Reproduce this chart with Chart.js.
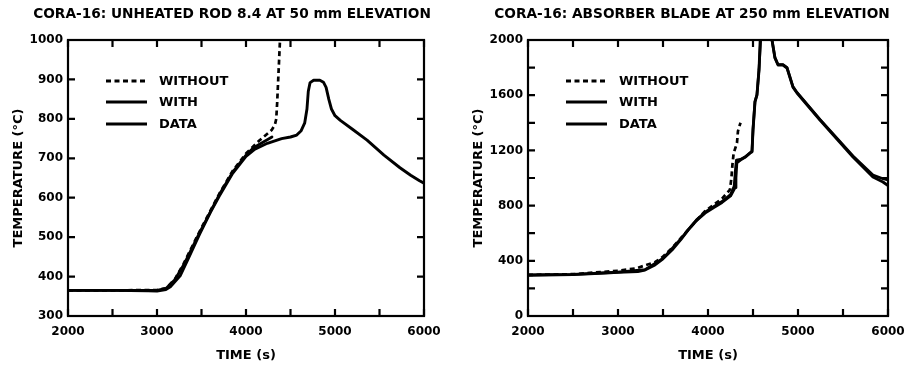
<!DOCTYPE html>
<html><head><meta charset="utf-8">
<script src="https://cdn.jsdelivr.net/npm/chart.js@4/dist/chart.umd.min.js"></script>
<style>
html,body{margin:0;padding:0;background:#fff;}
#wrap{position:relative;width:905px;height:366px;overflow:hidden;background:#fff;}
#c1{position:absolute;left:0;top:0;width:452px;height:366px;}
#c2{position:absolute;left:452px;top:0;width:453px;height:366px;}
</style></head><body>
<div id="wrap"><canvas id="c1" width="452" height="366"></canvas><canvas id="c2" width="453" height="366"></canvas></div>
<script>
// ---------- tick values ----------
const xTicks = [2000,2500,3000,3500,4000,4500,5000,5500,6000];
const xTickLabels = [2000,3000,4000,5000,6000];
const yTicksL = [300,400,500,600,700,800,900,1000];
const yTickLabelsL = [300,400,500,600,700,800,900,1000];
const yTicksR = [0,200,400,600,800,1000,1200,1400,1600,1800,2000];
const yTickLabelsR = [0,400,800,1200,1600,2000];

const titleL = "CORA-16: UNHEATED ROD 8.4 AT 50 mm ELEVATION";
const titleR = "CORA-16: ABSORBER BLADE AT 250 mm ELEVATION";
const xTitle = "TIME (s)";
const yTitle = "TEMPERATURE (\u00B0C)";
const seriesNames = ["WITHOUT","WITH","DATA"];

// ---------- left panel: unheated rod ----------
const tWithoutL = [2000,2500,3000,3100,3200,3300,3480,3700,3850,4000,4150,4290,4326,4340,4350,4362,4372,4382];
const vWithoutL = [365,365,366,370,393,433,515,610,668,712,745,772,786,800,840,900,950,1000];

const tWithL = [2000,2500,3000,3100,3200,3300,3480,3700,3850,4000,4080,4200,4292];
const vWithL = [365,365,365,370,392,430,512,608,665,708,726,742,754];

const tDataL = [2000,2500,2900,3000,3100,3150,3200,3260,3350,3480,3600,3700,3850,4000,4100,4240,4400,4500,4570,4620,4660,4685,4700,4720,4760,4830,4870,4900,4930,4960,5000,5060,5200,5360,5550,5730,5850,5950,6000];
const vDataL = [365,365,364,363,367,374,387,402,445,508,563,604,662,705,723,738,750,754,759,770,790,825,870,892,898,898,893,880,850,825,808,796,773,746,708,676,657,643,637];

// ---------- right panel: absorber blade ----------
const tWithoutR = [2000,2500,2800,3000,3200,3411,3500,3600,3700,3800,3900,3967,4060,4156,4244,4260,4272,4285,4310,4322,4333,4356,4362];
const vWithoutR = [298,303,318,328,345,390,430,493,565,640,712,760,805,850,915,1000,1100,1180,1230,1254,1340,1390,1400];

const tWithR = [2000,2500,3000,3300,3500,3700,3870,3967,4156,4250,4290,4305,4315,4360,4411,4467,4489,4500,4522,4544,4567,4585,4600,4700,4711,4744,4778,4833,4878,4944,4989,5244,5611,5833,5944,6000];
const vWithR = [298,302,318,336,418,560,695,752,830,880,940,1060,1130,1135,1152,1183,1195,1350,1555,1605,1790,2000,2150,2150,2000,1872,1822,1822,1800,1662,1620,1425,1160,1022,995,985];

const tDataR = [2000,2500,2860,3000,3220,3300,3411,3500,3600,3700,3778,3870,3967,4060,4156,4250,4300,4310,4320,4360,4411,4467,4489,4500,4522,4544,4567,4580,4600,4700,4711,4744,4778,4833,4878,4944,4989,5244,5611,5833,5944,6000];
const vDataR = [295,300,312,316,322,333,370,415,478,555,623,690,746,785,823,870,930,1000,1110,1130,1150,1180,1190,1348,1551,1601,1783,2000,2150,2150,2000,1870,1819,1819,1797,1659,1616,1420,1152,1007,971,945];

const FONT = 'DejaVu Sans';
const pts = (ts, vs) => ts.map((t, i) => ({x: t, y: vs[i]}));

function makeDatasets(tw, vw, ti, vi, td, vd) {
  const base = {borderColor:'#000', backgroundColor:'#000', pointRadius:0, tension:0, fill:false, borderJoinStyle:'round', borderCapStyle:'round'};
  return [
    Object.assign({}, base, {label: seriesNames[0], data: pts(tw, vw), borderWidth: 2.7, borderDash: [5, 3.5], borderCapStyle:'butt'}),
    Object.assign({}, base, {label: seriesNames[1], data: pts(ti, vi), borderWidth: 2.7}),
    Object.assign({}, base, {label: seriesNames[2], data: pts(td, vd), borderWidth: 2.9})
  ];
}

const framePlugin = {
  id: 'frameTicks',
  afterDatasetsDraw(chart, args, opts) {
    const {ctx, chartArea: a, scales: {x, y}} = chart;
    ctx.save();
    ctx.strokeStyle = '#000';
    ctx.lineWidth = 2.2;
    ctx.strokeRect(a.left, a.top, a.right - a.left, a.bottom - a.top);
    const L = 7;
    ctx.beginPath();
    x.ticks.forEach(t => {
      const px = x.getPixelForValue(t.value);
      ctx.moveTo(px, a.bottom); ctx.lineTo(px, a.bottom - L);
      ctx.moveTo(px, a.top); ctx.lineTo(px, a.top + L);
    });
    y.ticks.forEach(t => {
      const py = y.getPixelForValue(t.value);
      ctx.moveTo(a.left, py); ctx.lineTo(a.left + L, py);
      ctx.moveTo(a.right, py); ctx.lineTo(a.right - L, py);
    });
    ctx.stroke();
    // legend
    const rows = [41, 62, 84];
    chart.data.datasets.forEach((ds, i) => {
      const yy = a.top + rows[i];
      ctx.beginPath();
      ctx.lineWidth = 2.8;
      ctx.setLineDash(ds.borderDash || []);
      ctx.moveTo(a.left + 38, yy); ctx.lineTo(a.left + 79, yy);
      ctx.stroke();
      ctx.setLineDash([]);
      ctx.fillStyle = '#000';
      ctx.font = 'bold 13px "' + FONT + '"';
      ctx.textAlign = 'left';
      ctx.textBaseline = 'middle';
      ctx.fillText(ds.label, a.left + 91, yy + 0.5);
    });
    // title
    ctx.font = 'bold 13.7px "' + FONT + '"';
    ctx.textAlign = 'center';
    ctx.textBaseline = 'middle';
    ctx.fillText(opts.text, a.left + 164, 14);
    ctx.restore();
  }
};

function makeChart(id, title, datasets, yMin, yMax, yTicks, yLabels, yWidth, yTitlePad, padRight) {
  return new Chart(document.getElementById(id), {
    type: 'line',
    data: {datasets},
    plugins: [framePlugin],
    options: {
      responsive: false,
      animation: false,
      layout: {padding: {top: 40, right: padRight, left: 0, bottom: 0}},
      plugins: {legend: {display: false}, tooltip: {enabled: false}, title: {display: false}, frameTicks: {text: title}},
      scales: {
        x: {
          type: 'linear', min: 2000, max: 6000,
          afterBuildTicks: s => { s.ticks = xTicks.map(v => ({value: v})); },
          afterFit: s => { s.height = 50; s.paddingLeft = 0; s.paddingRight = 0; },
          grid: {display: false, drawTicks: false},
          border: {display: false},
          ticks: {autoSkip: false, maxRotation: 0, padding: 9, color: '#000',
                  font: {family: FONT, weight: 'bold', size: 12},
                  callback: v => xTickLabels.includes(v) ? String(v) : ''},
          title: {display: true, text: xTitle, color: '#000', font: {family: FONT, weight: 'bold', size: 13}, padding: {top: 0, bottom: 3}}
        },
        y: {
          type: 'linear', min: yMin, max: yMax,
          afterBuildTicks: s => { s.ticks = yTicks.map(v => ({value: v})); },
          afterFit: s => { s.width = yWidth; s.paddingTop = 0; s.paddingBottom = 0; },
          grid: {display: false, drawTicks: false},
          border: {display: false},
          ticks: {autoSkip: false, padding: 5, color: '#000',
                  font: {family: FONT, weight: 'bold', size: 12},
                  callback: v => yLabels.includes(v) ? String(v) : ''},
          title: {display: true, text: yTitle, color: '#000', font: {family: FONT, weight: 'bold', size: 13}, padding: {top: yTitlePad, bottom: 0}}
        }
      }
    }
  });
}

makeChart('c1', titleL, makeDatasets(tWithoutL, vWithoutL, tWithL, vWithL, tDataL, vDataL), 300, 1000, yTicksL, yTickLabelsL, 68, 11, 28);
makeChart('c2', titleR, makeDatasets(tWithoutR, vWithoutR, tWithR, vWithR, tDataR, vDataR), 0, 2000, yTicksR, yTickLabelsR, 76, 19, 17);
</script>
</body></html>
